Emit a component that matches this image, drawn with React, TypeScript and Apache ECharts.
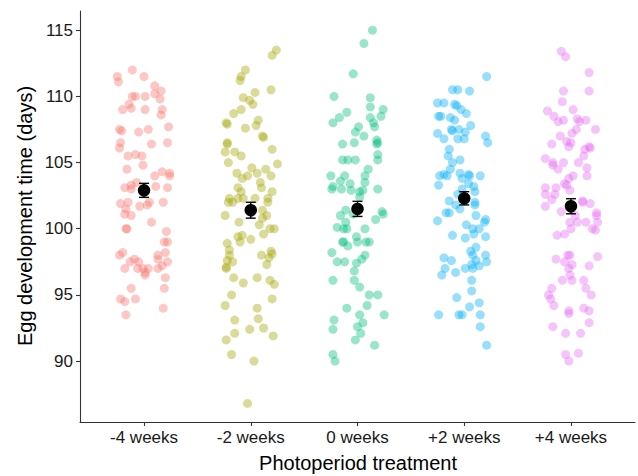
import React, { useEffect, useRef } from "react";
import * as echarts from "echarts";

const categories = ["-4 weeks", "-2 weeks", "0 weeks", "+2 weeks", "+4 weeks"];
const yTicks = [90, 95, 100, 105, 110, 115];
const colors = ["#F8766D", "#A3A500", "#00BF7D", "#00B0F6", "#E76BF3"];

const jitterM4 = [-0.11,-0.25,-0.24,0,0.1,0.16,0.1,-0.11,-0.08,0.01,0.15,-0.14,-0.12,-0.2,0.01,0.17,0.16,-0.23,-0.21,-0.05,0.04,0.23,-0.22,0.07,0.22,-0.23,-0.15,-0.08,-0.02,-0.16,-0.01,0.1,0.17,0.24,0.24,-0.07,-0.12,-0.18,0.11,0.22,-0.12,
  -0.22,-0.15,-0.17,-0.18,-0.12,-0.04,0.05,0.03,0.18,0.07,-0.17,-0.16,0.21,0.19,0.22,-0.23,-0.2,0.2,0.13,-0.13,-0.09,-0.05,0.13,0.22,-0.18,-0.06,-0.01,0.04,0.13,0.17,0.01,0.01,0.2,-0.12,0.19,-0.22,-0.18,-0.08,0.18,-0.17];
const valuesM4 = [112.0,111.5,111.1,111.5,110.8,110.4,110.2,110.0,110.0,110.0,109.8,109.4,109.1,109.0,109.0,109.0,108.6,107.5,107.4,107.3,107.5,107.7,106.5,106.4,106.5,106.1,105.5,105.6,105.5,104.5,104.8,104.0,104.3,104.2,104.0,103.5,103.3,103.1,103.2,103.1,103.0,
  101.9,102.0,101.5,101.1,101.0,101.7,102.0,101.8,102.0,100.5,100.0,100.0,99.8,99.0,99.0,98.0,98.2,98.2,98.0,97.5,97.7,97.5,97.7,97.5,97.0,97.0,97.0,97.0,97.0,97.2,96.7,96.5,96.3,95.5,95.5,94.7,94.5,94.7,94.0,93.5];

const jitterM2 = [0.24,0.2,-0.05,-0.09,-0.1,0.19,0.04,-0.07,-0.01,0.02,-0.09,-0.16,0.07,-0.23,-0.22,0.05,-0.05,0.11,0.12,-0.22,-0.22,0.2,-0.24,-0.15,-0.09,-0.21,0.25,-0.13,0.01,0.06,0.14,-0.08,-0.03,0.19,0.09,0.1,-0.12,0.2,-0.09,-0.2,-0.12,-0.07,0.04,0.16,
  -0.21,-0.17,0.16,-0.24,0.11,0.15,0.11,-0.11,0.08,0.18,0.22,0.12,-0.12,-0.08,-0.1,0,-0.22,-0.2,-0.2,0.1,0.19,0.2,0.17,-0.22,-0.17,0.15,-0.23,-0.23,-0.16,-0.07,0.06,0.18,0.22,-0.18,0.2,-0.24,0.06,0.07,-0.15,-0.01,0.12,0.21,-0.15,-0.23,-0.18,0.03,-0.03];
const valuesM2 = [113.5,113.1,112.0,111.5,111.2,110.5,110.3,109.9,109.7,109.4,109.0,108.7,108.2,108.0,107.9,107.8,107.6,107.0,106.9,106.5,106.4,106.0,105.8,105.8,105.5,105.0,104.9,104.2,104.6,104.2,104.5,103.8,104.0,104.0,103.5,103.1,103.1,102.8,102.8,102.3,102.3,102.3,102.3,102.3,
  102.0,102.0,102.0,101.0,101.4,101.0,100.8,100.5,100.3,100.0,100.0,99.6,99.4,99.5,99.0,99.2,98.9,98.4,98.0,98.0,98.3,98.1,97.8,97.6,97.5,97.3,97.1,97.0,96.3,95.9,96.3,96.1,95.8,95.0,94.7,94.2,94.0,93.2,93.1,92.4,92.5,91.9,92.1,91.6,90.5,90.0,86.8];

const jitter0 = [0.14,0.06,-0.04,-0.22,0.12,0.12,0.24,-0.1,-0.17,-0.23,0.12,0.22,0.15,0.16,0.01,-0.02,0.06,-0.03,-0.14,0.18,0.18,0.19,-0.14,-0.09,-0.02,0.19,0.19,0.1,-0.25,-0.12,0.07,-0.16,0.07,-0.23,-0.24,-0.15,-0.07,-0.06,0.02,0.05,0.19,0.02,
  -0.16,-0.11,-0.04,0.17,0.23,0.24,-0.11,-0.19,-0.13,-0.1,0.07,-0.01,-0.14,-0.13,-0.09,0,0.08,0.11,-0.24,0.07,0.04,-0.19,-0.12,-0.01,-0.03,-0.23,-0.03,0.02,0.11,0.19,-0.1,0.09,0.25,0.02,-0.22,0.05,0,-0.23,0.03,-0.02,0.16,-0.23,-0.21];
const values0 = [115.0,114.0,111.7,110.0,109.9,109.2,109.0,108.8,108.4,108.0,108.4,108.5,108.0,107.7,107.7,107.3,107.0,106.5,106.4,106.7,106.4,106.5,105.2,105.2,105.2,105.6,105.2,104.5,104.0,104.0,104.0,103.6,103.5,103.2,103.0,103.0,103.4,102.9,102.8,102.9,103.0,102.4,
  101.0,101.4,101.1,100.7,101.3,101.1,100.5,100.1,100.0,100.0,100.0,99.4,99.0,99.0,98.7,99.0,99.0,99.0,98.2,98.0,97.7,97.5,97.5,97.4,96.8,96.1,96.1,95.6,95.0,95.0,94.0,94.2,93.5,93.5,93.1,92.9,92.6,92.4,92.1,91.6,91.2,90.5,90.0];

const jitterP2 = [0.21,-0.11,-0.06,0.05,-0.25,-0.19,-0.09,-0.07,-0.03,0.02,-0.24,-0.22,-0.13,-0.09,0.06,-0.12,-0.11,-0.05,0.01,-0.25,0.2,-0.19,-0.06,0,0.22,-0.14,-0.15,-0.04,-0.11,-0.13,-0.23,-0.19,-0.16,-0.04,0.04,0.05,-0.02,0.15,-0.24,0.04,0.09,-0.02,0.1,-0.06,
  -0.14,-0.08,-0.04,0.1,0.1,-0.17,-0.14,-0.25,0.11,0.2,0.19,0.02,0.08,0.14,0.09,-0.11,0.01,0.2,0.11,0.06,0.08,0.2,-0.19,-0.12,0.11,0.21,0.07,0.14,-0.18,0.01,0.08,-0.08,-0.21,0.07,0.07,-0.07,0.14,0.05,-0.24,-0.05,-0.02,0.15,0.15,0.21];
const valuesP2 = [111.5,110.5,110.5,110.4,109.5,109.5,109.4,109.3,109.0,108.7,108.5,108.5,108.4,108.2,107.8,107.5,107.4,107.5,107.3,107.2,107.0,106.8,106.8,106.8,106.5,106.0,105.5,105.2,105.0,104.5,104.0,104.1,104.0,104.2,104.1,104.0,103.8,104.0,103.3,103.4,103.2,103.0,102.8,102.6,
  102.1,101.8,101.5,102.0,101.8,101.2,101.2,100.6,101.0,100.7,100.5,100.3,100.0,100.0,99.6,99.5,99.3,99.4,98.6,98.3,98.0,98.0,97.8,97.6,97.6,97.5,97.3,97.2,97.0,97.0,97.0,96.7,96.5,96.1,95.3,94.8,94.4,94.1,93.5,93.5,93.5,93.5,92.6,91.2];

const jitterP4 = [-0.09,-0.05,0.17,-0.07,0.17,-0.08,-0.22,0.02,-0.16,-0.12,-0.07,0.06,0.08,0.14,0.23,0.05,0.01,-0.1,-0.04,0,-0.02,-0.18,0.17,0.18,0.13,0.12,-0.24,-0.17,-0.17,-0.12,-0.07,0.07,0.15,0.15,0.02,-0.02,-0.06,-0.04,-0.24,-0.14,-0.24,-0.15,-0.01,0.11,
  -0.18,-0.24,0.11,0.18,-0.09,0.04,0.24,0.24,-0.01,0.06,0.14,0.25,0,0.2,0.23,-0.13,-0.06,-0.03,-0.01,-0.14,0.25,-0.06,0.01,0.17,-0.02,-0.01,-0.08,0.01,0.12,0.14,-0.18,0.19,-0.21,-0.19,-0.16,0.12,0.17,-0.02,-0.02,0.17,-0.17,-0.05,0.09,0.07,-0.05,-0.02];
const valuesP4 = [113.4,113.0,111.8,110.4,110.4,109.6,108.9,109.0,108.5,108.1,108.2,108.3,108.1,108.2,107.5,107.5,107.2,107.0,106.6,106.5,106.2,106.4,106.2,106.1,106.0,105.5,105.3,105.0,104.8,104.5,105.0,105.0,104.6,104.0,104.0,103.8,103.4,103.3,103.1,103.1,102.6,102.6,102.9,102.1,
  102.2,101.7,102.0,101.9,101.3,101.0,101.2,101.0,100.5,100.5,100.5,100.5,100.0,100.0,99.9,99.5,99.6,98.0,98.0,97.7,97.9,97.5,97.3,97.2,97.0,96.5,96.1,96.1,96.1,95.5,95.5,95.0,95.0,94.7,94.2,94.0,93.8,93.8,93.6,92.9,92.6,92.1,92.1,90.6,90.5,90.0];

const means = [102.9, 101.4, 101.5, 102.3, 101.7];
const stdErrors = [0.53, 0.6, 0.57, 0.5, 0.57];

const groups = [
  { jitter: jitterM4, values: valuesM4 },
  { jitter: jitterM2, values: valuesM2 },
  { jitter: jitter0, values: values0 },
  { jitter: jitterP2, values: valuesP2 },
  { jitter: jitterP4, values: valuesP4 },
];

const FONT = "'Liberation Sans', Arial, Helvetica, sans-serif";

export default function App() {
  const ref = useRef<HTMLDivElement>(null);
  useEffect(() => {
    if (!ref.current) return;
    document.body.style.margin = "0";
    const chart = echarts.init(ref.current, null, { renderer: "svg" });

    const pointSeries = groups.map((g, gi) => ({
      type: "scatter",
      data: g.values.map((v, i) => [gi + 1 + g.jitter[i], v]),
      symbol: "circle",
      symbolSize: 9,
      itemStyle: { color: colors[gi], opacity: 0.4 },
      silent: true,
      z: 2,
    }));

    const errData = means.map((m, i) => [i + 1, m - stdErrors[i], m + stdErrors[i]]);

    const option: any = {
      animation: false,
      textStyle: { fontFamily: FONT },
      grid: { left: 80, right: 3, top: 11, bottom: 54, containLabel: false },
      xAxis: {
        type: "value",
        min: 0.4,
        max: 5.6,
        splitLine: { show: false },
        axisLine: { show: true, lineStyle: { color: "#333", width: 1.1 } },
        axisTick: { show: true, length: 4, lineStyle: { color: "#333", width: 1.1 }, customValues: [1, 2, 3, 4, 5] },
        axisLabel: {
          customValues: [1, 2, 3, 4, 5],
          formatter: (v: number) => categories[Math.round(v) - 1] ?? "",
          color: "#1a1a1a",
          fontSize: 17,
          fontFamily: FONT,
          margin: 7,
        },
      },
      yAxis: {
        type: "value",
        min: 85.4,
        max: 116.45,
        splitLine: { show: false },
        axisLine: { show: true, lineStyle: { color: "#333", width: 1.1 } },
        axisTick: { show: true, length: 4, lineStyle: { color: "#333", width: 1.1 }, customValues: yTicks },
        axisLabel: {
          customValues: yTicks,
          color: "#1a1a1a",
          fontSize: 17,
          fontFamily: FONT,
          margin: 7,
        },
      },
      graphic: [
        {
          type: "text",
          x: 25,
          y: 216,
          rotation: Math.PI / 2,
          style: {
            text: "Egg development time (days)",
            fontSize: 20,
            fontFamily: FONT,
            fill: "#000",
            align: "center",
            verticalAlign: "middle",
          },
        },
        {
          type: "text",
          x: 358,
          y: 463,
          style: {
            text: "Photoperiod treatment",
            fontSize: 20,
            fontFamily: FONT,
            fill: "#000",
            align: "center",
            verticalAlign: "middle",
          },
        },
      ],
      series: [
        ...pointSeries,
        {
          type: "custom",
          data: errData,
          encode: { x: 0, y: [1, 2] },
          z: 5,
          silent: true,
          renderItem: (params: any, api: any) => {
            const x = api.value(0);
            const lo = api.coord([x, api.value(1)]);
            const hi = api.coord([x, api.value(2)]);
            const hw = 5;
            const style = { stroke: "#000", lineWidth: 1.4 };
            return {
              type: "group",
              children: [
                { type: "line", shape: { x1: hi[0], y1: hi[1], x2: lo[0], y2: lo[1] }, style },
                { type: "line", shape: { x1: hi[0] - hw, y1: hi[1], x2: hi[0] + hw, y2: hi[1] }, style },
                { type: "line", shape: { x1: lo[0] - hw, y1: lo[1], x2: lo[0] + hw, y2: lo[1] }, style },
              ],
            };
          },
        },
        {
          type: "scatter",
          data: means.map((m, i) => [i + 1, m]),
          symbol: "circle",
          symbolSize: 12.5,
          itemStyle: { color: "#000", opacity: 1 },
          silent: true,
          z: 6,
        },
      ],
    };
    chart.setOption(option);
    return () => chart.dispose();
  }, []);
  return <div ref={ref} style={{ width: 638, height: 476 }} />;
}
